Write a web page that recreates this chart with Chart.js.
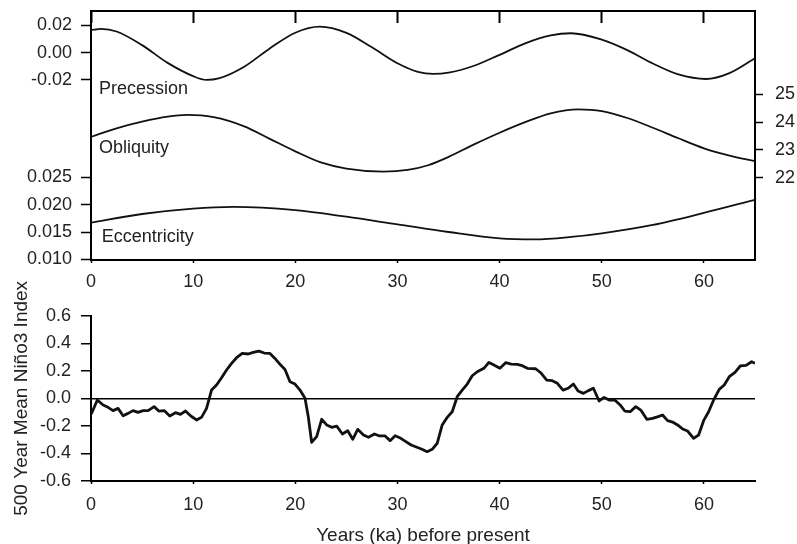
<!DOCTYPE html>
<html>
<head>
<meta charset="utf-8">
<script src="https://cdn.jsdelivr.net/npm/chart.js@4.4.1/dist/chart.umd.min.js"></script>
<style>
  html, body { margin: 0; padding: 0; background: #fff; overflow: hidden; }
  #wrap { position: relative; width: 797px; height: 544px; }
  #orbital-chart { position: absolute; left: 0; top: 0; }
  #nino-chart { position: absolute; left: 0; top: 270px; }
</style>
</head>
<body>
<div id="wrap">
  <canvas id="orbital-chart" width="797" height="300"></canvas>
  <canvas id="nino-chart" width="797" height="274"></canvas>
</div>
<script>
// --- orbital parameters (top panel) ---
const precKa = [0, 1, 2.5, 5, 7.5, 10, 11.3, 12.5, 15, 17.5, 20, 22.4, 25, 27.5, 30, 32, 33.5, 35, 37.5, 40, 42.5, 45, 47, 50, 52.5, 55, 57.5, 60.2, 62.5, 65];
const precValues = [0.0166, 0.0174, 0.0155, 0.0055, -0.0075, -0.0172, -0.0200, -0.0189, -0.0103, 0.0031, 0.0146, 0.0190, 0.0145, 0.0039, -0.0078, -0.0141, -0.0156, -0.0147, -0.0096, -0.0016, 0.0068, 0.0126, 0.0142, 0.0095, 0.0018, -0.0080, -0.0160, -0.0193, -0.0150, -0.0041];

const oblKa = [0, 2.5, 5, 7.5, 9.4, 12, 15, 17.5, 20, 22.5, 25, 28.6, 31, 33, 35, 37.5, 40, 42.5, 45, 47.7, 50, 52.5, 55, 57.5, 60, 62.5, 65];
const oblValues = [23.47, 23.78, 24.02, 24.2, 24.26, 24.18, 23.85, 23.4, 22.95, 22.55, 22.33, 22.22, 22.28, 22.45, 22.75, 23.2, 23.62, 24.0, 24.32, 24.46, 24.4, 24.15, 23.8, 23.42, 23.06, 22.8, 22.6];

const eccKa = [0, 5, 10, 14, 20, 25, 30, 35, 40, 43.4, 47, 50, 55, 60, 65];
const eccValues = [0.0167, 0.0183, 0.0193, 0.0196, 0.0190, 0.0178, 0.0164, 0.0150, 0.01385, 0.01366, 0.0141, 0.01476, 0.0163, 0.0185, 0.0209];

const precTicks = [-0.02, 0, 0.02];
const eccTicks = [0.010, 0.015, 0.020, 0.025];
const oblTicks = [22, 23, 24, 25];
const kaTicks = [0, 10, 20, 30, 40, 50, 60];

// --- 500 year mean Nino3 index (bottom panel) ---
const ninoKa = [0.03, 0.62, 1.18, 1.67, 2.16, 2.65, 3.14, 3.63, 4.12, 4.61, 5.1, 5.59, 6.18, 6.63, 7.16, 7.71, 8.27, 8.76, 9.25, 9.77, 10.33, 10.82, 11.31, 11.8, 12.29, 12.78, 13.27, 13.76, 14.25, 14.8, 15.39, 15.88, 16.44, 16.96, 17.52, 18.01, 18.5, 18.99, 19.48, 19.97, 20.46, 20.95, 21.27, 21.6, 22.09, 22.58, 23.07, 23.56, 24.05, 24.61, 25.13, 25.62, 26.11, 26.67, 27.16, 27.75, 28.24, 28.79, 29.28, 29.77, 30.33, 30.82, 31.34, 31.9, 32.4, 32.9, 33.4, 33.89, 34.38, 34.87, 35.36, 35.85, 36.34, 36.83, 37.32, 37.81, 38.46, 38.95, 39.44, 40.03, 40.59, 41.14, 41.73, 42.22, 42.71, 43.53, 44.02, 44.61, 45.16, 45.65, 46.21, 46.7, 47.22, 47.68, 48.2, 48.69, 49.18, 49.74, 50.23, 50.72, 51.27, 51.8, 52.25, 52.78, 53.33, 53.82, 54.41, 54.97, 55.52, 55.95, 56.44, 56.93, 57.42, 57.91, 58.4, 58.99, 59.48, 59.97, 60.46, 60.95, 61.5, 61.99, 62.48, 63.04, 63.56, 64.12, 64.67, 65];
const ninoValues = [-0.114, -0.012, -0.048, -0.065, -0.089, -0.073, -0.126, -0.109, -0.089, -0.102, -0.089, -0.089, -0.060, -0.092, -0.089, -0.128, -0.104, -0.116, -0.092, -0.128, -0.157, -0.138, -0.073, 0.060, 0.097, 0.150, 0.206, 0.254, 0.295, 0.326, 0.322, 0.334, 0.343, 0.329, 0.326, 0.290, 0.247, 0.210, 0.121, 0.104, 0.060, 0.0, -0.133, -0.319, -0.278, -0.152, -0.193, -0.210, -0.201, -0.259, -0.235, -0.297, -0.225, -0.266, -0.283, -0.259, -0.273, -0.273, -0.307, -0.271, -0.290, -0.314, -0.339, -0.355, -0.370, -0.387, -0.370, -0.326, -0.193, -0.138, -0.097, 0.012, 0.060, 0.104, 0.164, 0.193, 0.218, 0.261, 0.242, 0.218, 0.259, 0.249, 0.247, 0.237, 0.218, 0.215, 0.186, 0.133, 0.128, 0.109, 0.060, 0.073, 0.104, 0.053, 0.036, 0.056, 0.073, -0.019, 0.007, -0.012, -0.012, -0.048, -0.092, -0.097, -0.060, -0.085, -0.152, -0.145, -0.133, -0.121, -0.162, -0.172, -0.193, -0.222, -0.237, -0.290, -0.266, -0.162, -0.097, -0.012, 0.065, 0.097, 0.157, 0.189, 0.235, 0.239, 0.266, 0.254];

const orbitalNames = ['Precession', 'Obliquity', 'Eccentricity'];

const FONT = '"Liberation Sans", Arial, sans-serif';
Chart.defaults.font.family = FONT;
Chart.defaults.font.size = 18;
Chart.defaults.color = '#222';

const toPoints = (xs, ys) => xs.map((x, i) => ({ x: x, y: ys[i] }));
const fixedTicks = (values) => (scale) => { scale.ticks = values.map(v => ({ value: v })); };

// fixed box size, and no extra label padding pushed into the layout
const fixSize = (w, h) => (s) => {
    if (w !== null) s.width = w;
    if (h !== null) s.height = h;
    s.paddingTop = s.paddingBottom = s.paddingLeft = s.paddingRight = 0;
};

// writes the curve names inside the top panel
const curveNames = {
    id: 'curveNames',
    afterLayout(chart) {
        // precession axis shares the eccentricity axis column, widen its label clip
        chart.scales.yP.left = 0;
    },
    afterDatasetsDraw(chart, args, opts) {
        const ctx = chart.ctx;
        const xs = chart.scales.x;
        ctx.save();
        ctx.font = '18px ' + FONT;
        ctx.fillStyle = '#222';
        ctx.textBaseline = 'middle';
        opts.items.forEach(item => {
            ctx.fillText(item.text, xs.getPixelForValue(item.ka), chart.scales[item.axis].getPixelForValue(item.value));
        });
        ctx.restore();
    }
};

new Chart(document.getElementById('orbital-chart'), {
    type: 'line',
    data: {
        datasets: [
            { label: orbitalNames[0], data: toPoints(precKa, precValues), yAxisID: 'yP' },
            { label: orbitalNames[1], data: toPoints(oblKa, oblValues), yAxisID: 'yO' },
            { label: orbitalNames[2], data: toPoints(eccKa, eccValues), yAxisID: 'yE' }
        ]
    },
    options: {
        responsive: false,
        animation: false,
        layout: { autoPadding: false, padding: { top: 11, left: 0, right: 0, bottom: 0 } },
        elements: {
            point: { radius: 0 },
            line: { borderColor: '#111', borderWidth: 1.8, cubicInterpolationMode: 'monotone' }
        },
        plugins: {
            legend: { display: false },
            tooltip: { enabled: false },
            curveNames: {
                items: [
                    { text: orbitalNames[0], ka: 0.78, axis: 'yP', value: -0.0266 },
                    { text: orbitalNames[1], ka: 0.78, axis: 'yO', value: 23.07 },
                    { text: orbitalNames[2], ka: 1.05, axis: 'yE', value: 0.01408 }
                ]
            }
        },
        scales: {
            x: {
                type: 'linear', position: 'bottom', min: 0, max: 65,
                afterBuildTicks: fixedTicks(kaTicks),
                afterFit: fixSize(null, 40),
                ticks: { padding: 8 },
                border: { color: '#000', width: 2 },
                grid: { drawOnChartArea: false, tickLength: 3, color: '#000', tickWidth: 1.5 }
            },
            xTop: {
                type: 'linear', position: 'top', min: 0, max: 65,
                afterBuildTicks: fixedTicks(kaTicks),
                afterFit: fixSize(null, 0),
                ticks: { display: false },
                border: { color: '#000', width: 2 },
                grid: { drawOnChartArea: false, tickLength: -12, color: '#000', tickWidth: 2 }
            },
            yE: {
                type: 'linear', position: 'left', weight: 10, min: 0.00987, max: 0.0555,
                afterBuildTicks: fixedTicks(eccTicks),
                afterFit: fixSize(91, null),
                ticks: { padding: 9, callback: v => v.toFixed(3) },
                border: { color: '#000', width: 2 },
                grid: { drawOnChartArea: false, tickLength: 10, color: '#000', tickWidth: 1.5 }
            },
            yP: {
                type: 'linear', position: 'left', weight: 0, min: -0.1519, max: 0.0305,
                afterBuildTicks: fixedTicks(precTicks),
                afterFit: fixSize(0, null),
                ticks: { padding: 9, callback: v => v.toFixed(2) },
                border: { color: '#000', width: 2 },
                grid: { drawOnChartArea: false, tickLength: 10, color: '#000', tickWidth: 1.5 }
            },
            yO: {
                type: 'linear', position: 'right', min: 19.04, max: 28.0,
                afterBuildTicks: fixedTicks(oblTicks),
                afterFit: fixSize(42, null),
                ticks: { padding: 12, callback: v => String(v) },
                border: { color: '#000', width: 2 },
                grid: { drawOnChartArea: false, tickLength: 8, color: '#000', tickWidth: 1.5 }
            }
        }
    },
    plugins: [curveNames]
});

new Chart(document.getElementById('nino-chart'), {
    type: 'line',
    data: {
        datasets: [{
            label: '500 Year Mean Niño3 Index',
            data: toPoints(ninoKa, ninoValues),
            borderColor: '#111',
            borderWidth: 2.8,
            borderJoinStyle: 'round',
            pointRadius: 0,
            tension: 0
        }]
    },
    options: {
        responsive: false,
        animation: false,
        layout: { autoPadding: false, padding: { top: 45.7, right: 42, left: 0, bottom: 0 } },
        plugins: { legend: { display: false }, tooltip: { enabled: false } },
        scales: {
            x: {
                type: 'linear', min: 0, max: 65,
                afterBuildTicks: fixedTicks(kaTicks),
                afterFit: fixSize(null, 63),
                ticks: { padding: 10.7 },
                border: { color: '#000', width: 2 },
                grid: { drawOnChartArea: false, tickLength: 3, color: '#000', tickWidth: 1.5 },
                title: {
                    display: true, text: 'Years (ka) before present',
                    font: { size: 19, lineHeight: 0.9 }, padding: { top: 0, bottom: 0 }
                }
            },
            y: {
                type: 'linear', min: -0.6, max: 0.6,
                ticks: { stepSize: 0.2, padding: 10, callback: v => v.toFixed(1) },
                afterFit: fixSize(91, null),
                border: { color: '#000', width: 2 },
                grid: {
                    drawOnChartArea: true,
                    color: c => (c.tick && Math.abs(c.tick.value) < 1e-9) ? '#000' : 'rgba(0,0,0,0)',
                    lineWidth: 1.5,
                    tickColor: '#000', tickLength: 10, tickWidth: 1.5
                },
                title: {
                    display: true, text: '500 Year Mean Niño3 Index',
                    font: { size: 19, lineHeight: 1 }, padding: { top: 12.5, bottom: 0 }
                }
            }
        }
    }
});
</script>
</body>
</html>
